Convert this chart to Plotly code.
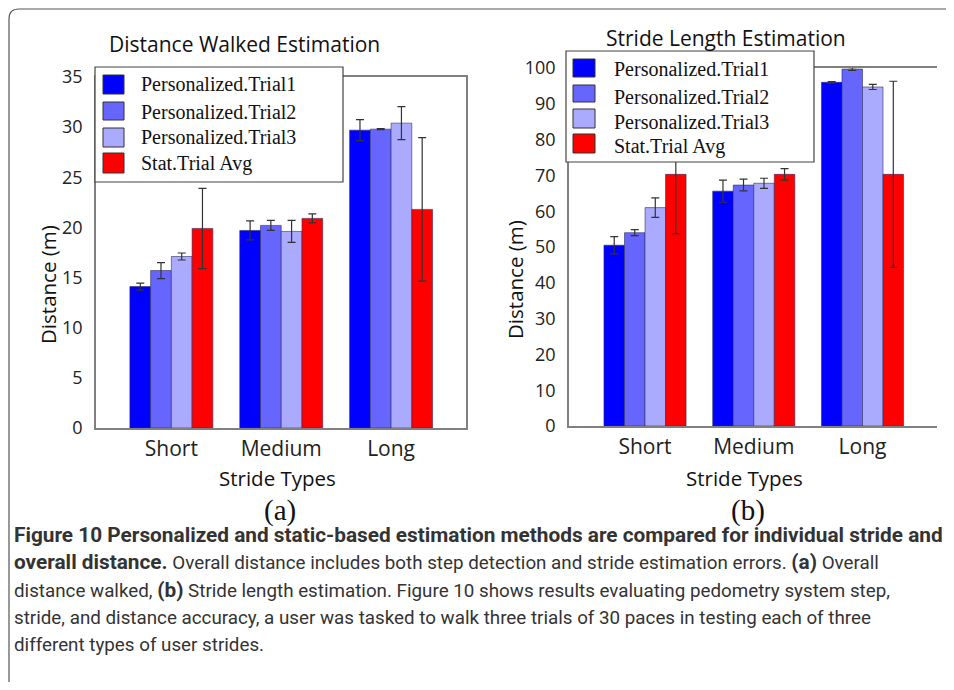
import plotly.graph_objects as go

# ---------------- data ----------------
categories = ["Short", "Medium", "Long"]
series_names = ["Personalized.Trial1", "Personalized.Trial2", "Personalized.Trial3", "Stat.Trial Avg"]
series_colors = ["#0000FF", "#6666FF", "#AAAAFF", "#FF0000"]

# (a) Distance walked (m)
dist_trial1 = [14.1, 19.7, 29.7]
dist_trial1_err = [0.35, 0.95, 1.05]
dist_trial2 = [15.7, 20.2, 29.8]
dist_trial2_err = [0.8, 0.5, 0.05]
dist_trial3 = [17.1, 19.6, 30.4]
dist_trial3_err = [0.35, 1.1, 1.65]
dist_stat = [19.9, 20.9, 21.8]
dist_stat_err = [4.0, 0.45, 7.15]

# (b) Stride length
stride_trial1 = [50.5, 65.6, 96.0]
stride_trial1_err = [2.4, 3.1, 0.2]
stride_trial2 = [54.0, 67.3, 99.7]
stride_trial2_err = [0.85, 1.65, 0.4]
stride_trial3 = [61.0, 67.8, 94.7]
stride_trial3_err = [2.7, 1.4, 0.7]
stride_stat = [70.3, 70.3, 70.3]
stride_stat_err = [16.6, 1.6, 26.0]

dist_ticks = [0, 5, 10, 15, 20, 25, 30, 35]
stride_ticks = [0, 10, 20, 30, 40, 50, 60, 70, 80, 90, 100]

title_a = "Distance Walked Estimation"
title_b = "Stride Length Estimation"
y_title = "Distance (m)"
x_title = "Stride Types"

R = '<span style="font-size:18.8px">'
caption_lines = [
    "<b>Figure 10 Personalized and static-based estimation methods are compared for individual stride and</b>",
    "<b>overall distance.</b>" + R + " Overall distance includes both step detection and stride estimation errors. </span><b>(a)</b>" + R + " Overall</span>",
    R + "distance walked, </span><b>(b)</b>" + R + " Stride length estimation. Figure 10 shows results evaluating pedometry system step,</span>",
    R + "stride, and distance accuracy, a user was tasked to walk three trials of 30 paces in testing each of three</span>",
    R + "different types of user strides.</span>",
]

# ---------------- layout helpers ----------------
# page has an 8px body margin; size the figure so that the page is exactly 954x690
OFF = 8
W, H = 954 - 2 * OFF, 690 - 2 * OFF


def px(x):
    return (x - OFF) / W


def py(y):
    return 1 - (y - OFF) / H


AX_COL = "#808080"
TICK_FONT = dict(family="Open Sans", size=18, color="#222")
CAT_FONT = dict(family="Open Sans", size=21, color="#222")
ERR_COL = "#333333"

fig = go.Figure()

dist_vals = [dist_trial1, dist_trial2, dist_trial3, dist_stat]
dist_errs = [dist_trial1_err, dist_trial2_err, dist_trial3_err, dist_stat_err]
stride_vals = [stride_trial1, stride_trial2, stride_trial3, stride_stat]
stride_errs = [stride_trial1_err, stride_trial2_err, stride_trial3_err, stride_stat_err]

for i in range(4):
    fig.add_trace(go.Bar(
        x=categories, y=dist_vals[i], name=series_names[i], showlegend=False,
        marker=dict(color=series_colors[i], line=dict(color="rgba(40,40,90,0.7)", width=0.8)),
        error_y=dict(type="data", array=dist_errs[i], color=ERR_COL, thickness=1.2, width=4),
        xaxis="x", yaxis="y",
    ))
for i in range(4):
    fig.add_trace(go.Bar(
        x=categories, y=stride_vals[i], name=series_names[i], showlegend=False,
        marker=dict(color=series_colors[i], line=dict(color="rgba(40,40,90,0.7)", width=0.8)),
        error_y=dict(type="data", array=stride_errs[i], color=ERR_COL, thickness=1.2, width=4),
        xaxis="x2", yaxis="y2",
    ))

xa_dom = [px(96), px(466)]
ya_dom = [py(428), py(77)]
xb_dom = [px(569), px(937)]
yb_dom = [py(426), py(68)]
xa_range = [-0.686, 2.682]
xb_range = [-0.699, 2.685]

common = dict(automargin=False, showgrid=False, zeroline=False)

fig.update_layout(
    template="none",
    width=W, height=H, autosize=False,
    margin=dict(l=0, r=0, t=0, b=0, pad=0, autoexpand=False),
    paper_bgcolor="white", plot_bgcolor="white",
    barmode="group", bargap=0.245, bargroupgap=0,
    showlegend=False,
    xaxis=dict(domain=xa_dom, anchor="y", range=xa_range, type="category",
               showline=True, linecolor=AX_COL, linewidth=1.5, mirror=True,
               ticks="", tickfont=CAT_FONT, ticklabelstandoff=1, **common),
    yaxis=dict(domain=ya_dom, anchor="x", range=[0, 35], tickvals=dist_ticks,
               showline=True, linecolor=AX_COL, linewidth=1.5, mirror=True,
               ticks="", tickfont=TICK_FONT, ticklabelstandoff=8, **common),
    xaxis2=dict(domain=xb_dom, anchor="y2", range=xb_range, type="category",
                showline=True, linecolor=AX_COL, linewidth=1.5, mirror=True,
                ticks="", tickfont=CAT_FONT, ticklabelstandoff=1, **common),
    yaxis2=dict(domain=yb_dom, anchor="x2", range=[0, 100], tickvals=stride_ticks,
                showline=True, linecolor=AX_COL, linewidth=1.5, mirror=False,
                ticks="", tickfont=TICK_FONT, ticklabelstandoff=8, **common),
    # right-side inward ticks
    yaxis3=dict(overlaying="y", anchor="x", side="right", range=[0, 35], tickvals=dist_ticks,
                showline=False, ticks="inside", ticklen=8, tickcolor="#666", tickwidth=1.5,
                showticklabels=False, **common),
    yaxis4=dict(overlaying="y2", anchor="x2", side="right", range=[0, 100], tickvals=stride_ticks,
                showline=False, ticks="inside", ticklen=8, tickcolor="#666", tickwidth=1.5,
                showticklabels=False, **common),
    # top inward ticks on (a)
    xaxis3=dict(overlaying="x", anchor="y", side="top", type="linear", range=xa_range,
                tickvals=[0, 1, 2], showline=False, ticks="inside", ticklen=10,
                tickcolor="#555", tickwidth=1.5, showticklabels=False, **common),
)

shapes = []
annotations = []

# outer frame with rounded top-left corner
shapes.append(dict(type="path", xref="paper", yref="paper",
                   path=f"M {px(9)},{py(700)} L {px(9)},{py(19)} Q {px(9)},{py(9)} {px(19)},{py(9)} L {px(960)},{py(9)}",
                   line=dict(color="#555", width=1.2), layer="above"))

# manual legends
legend_specs = [
    dict(box=(95, 67, 343, 182), sx=(103, 124),
         rows=[(75, 94), (102, 120), (128, 147), (153, 173)], tx=139, ty=[84, 112, 137, 163]),
    dict(box=(566, 51, 814, 162), sx=(573, 595),
         rows=[(59, 77), (85, 102), (109, 128), (134, 153)], tx=612, ty=[69, 97, 122, 147]),
]
for spec in legend_specs:
    l, t, r, b = spec["box"]
    shapes.append(dict(type="rect", xref="paper", yref="paper", x0=px(l), x1=px(r), y0=py(b), y1=py(t),
                       fillcolor="white", line=dict(color="#444", width=1.2), layer="above"))
    for i in range(4):
        st, sb = spec["rows"][i]
        shapes.append(dict(type="rect", xref="paper", yref="paper",
                           x0=px(spec["sx"][0]), x1=px(spec["sx"][1]), y0=py(sb), y1=py(st),
                           fillcolor=series_colors[i], line=dict(color="#333", width=1), layer="above"))
        annotations.append(dict(text=series_names[i], xref="paper", yref="paper",
                                x=px(spec["tx"]), y=py(spec["ty"][i]), xanchor="left", yanchor="middle",
                                showarrow=False, font=dict(family="Liberation Serif", size=20, color="#111")))

# titles and axis titles
for txt, x, y in [(title_a, 245, 44), (title_b, 726, 38)]:
    annotations.append(dict(text=txt, xref="paper", yref="paper", x=px(x), y=py(y),
                            xanchor="center", yanchor="middle", showarrow=False,
                            font=dict(family="Open Sans", size=21, color="#111")))
for x, y in [(48, 285), (515, 280)]:
    annotations.append(dict(text=y_title, xref="paper", yref="paper", x=px(x), y=py(y), textangle=-90,
                            xanchor="center", yanchor="middle", showarrow=False,
                            font=dict(family="Open Sans", size=20.5, color="#111")))
for x in [277, 744]:
    annotations.append(dict(text=x_title, xref="paper", yref="paper", x=px(x), y=py(478),
                            xanchor="center", yanchor="middle", showarrow=False,
                            font=dict(family="Open Sans", size=20.5, color="#111")))
for txt, x in [("(a)", 280), ("(b)", 748)]:
    annotations.append(dict(text=txt, xref="paper", yref="paper", x=px(x), y=py(510),
                            xanchor="center", yanchor="middle", showarrow=False,
                            font=dict(family="Liberation Serif", size=29, color="#111")))

# caption
for k, line in enumerate(caption_lines):
    annotations.append(dict(text=line, xref="paper", yref="paper", x=px(12), y=py([535, 562, 590, 618, 645][k]),
                            xanchor="left", yanchor="middle", showarrow=False,
                            font=dict(family="Roboto", size=20.8, color="#333")))

fig.update_layout(shapes=shapes, annotations=annotations)
fig.write_html("out.html")
